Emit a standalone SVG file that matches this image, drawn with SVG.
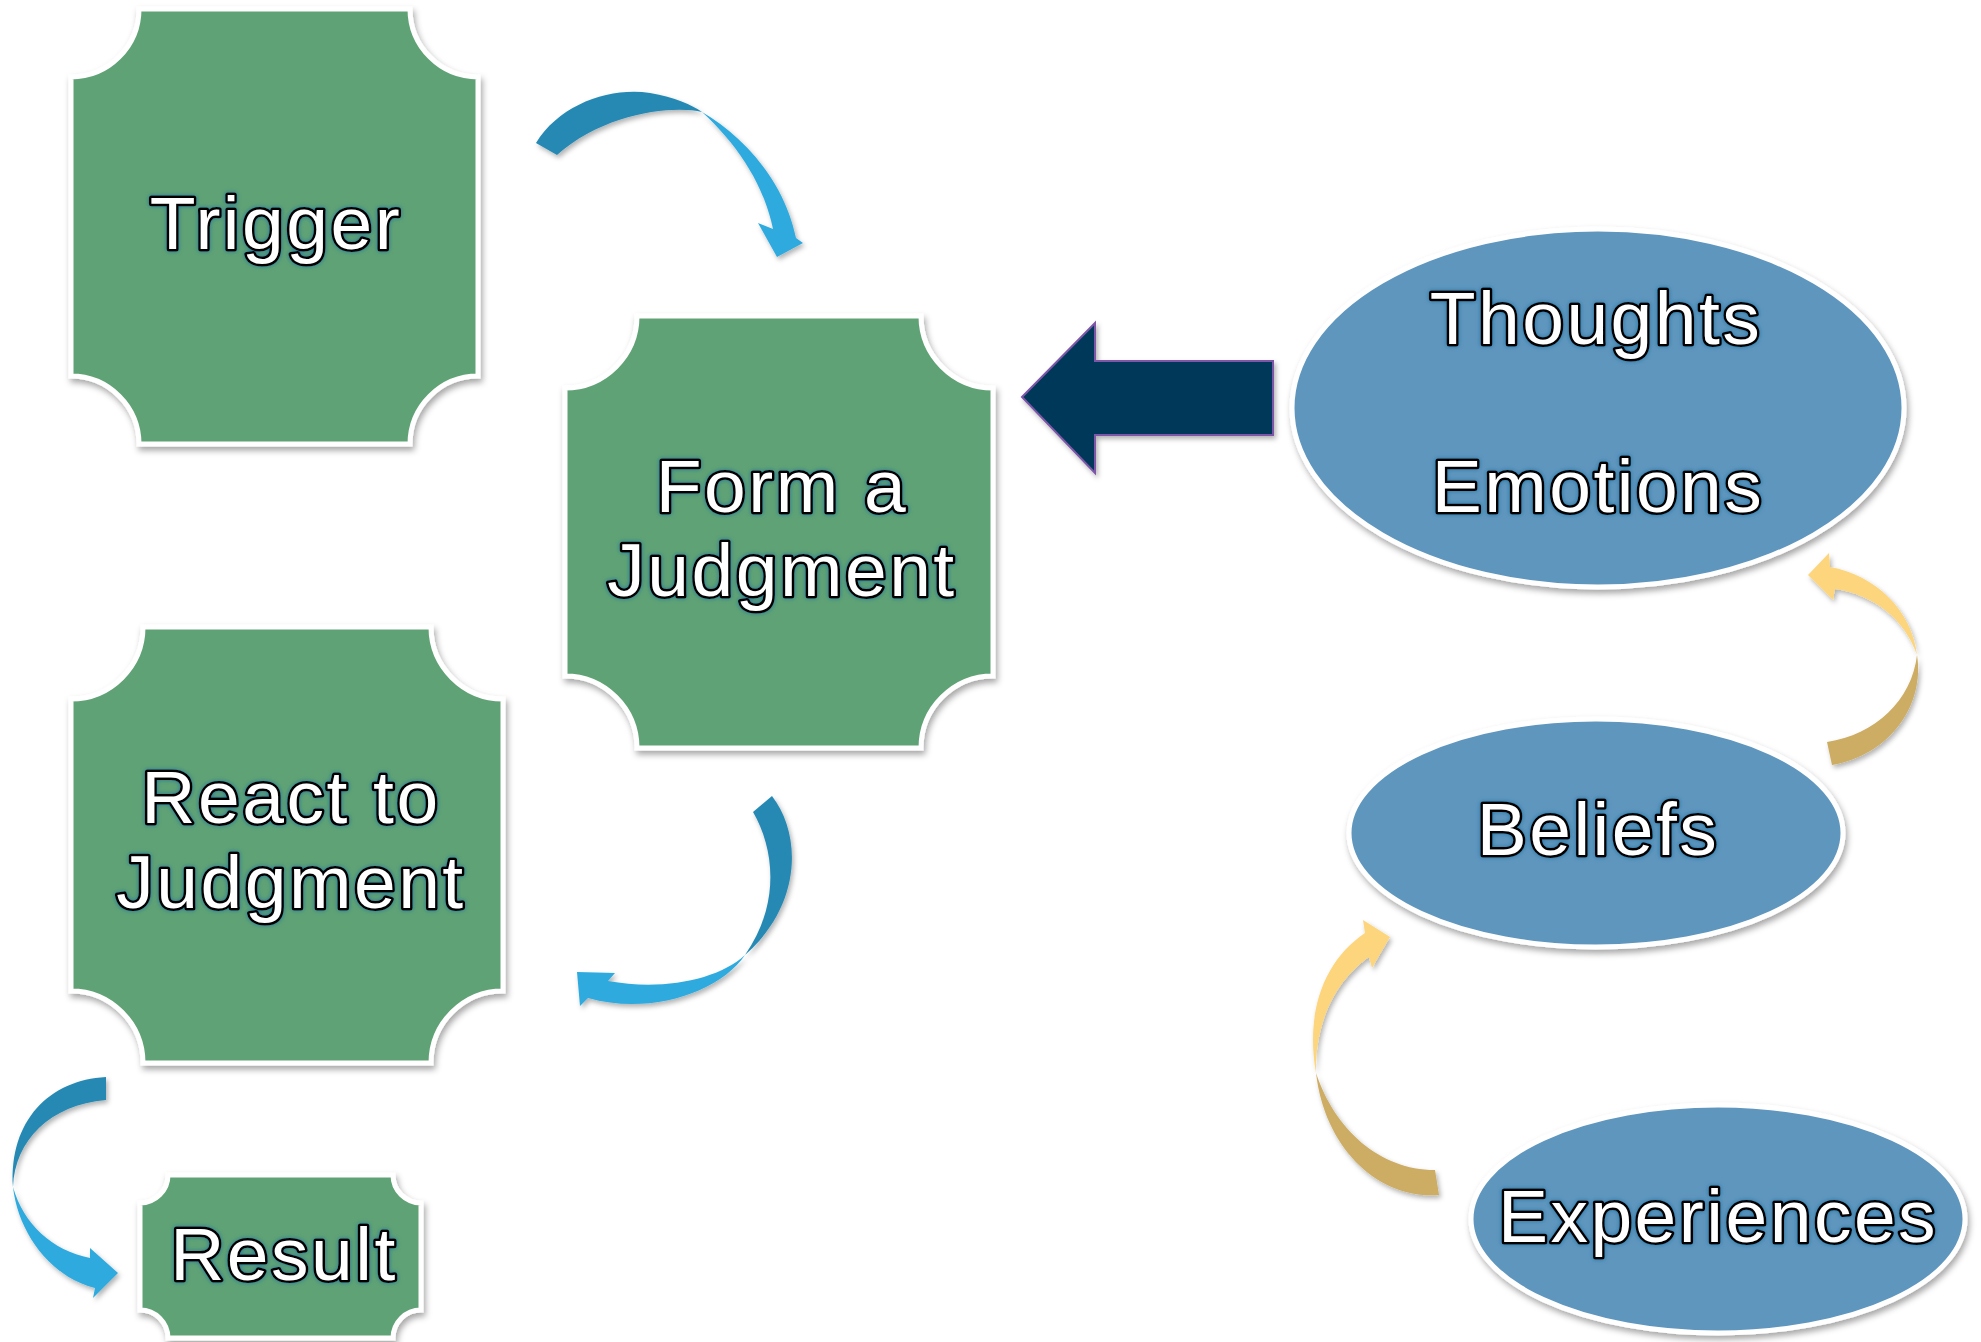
<svg xmlns="http://www.w3.org/2000/svg" width="1981" height="1342" viewBox="0 0 1981 1342">
  <defs>
    <filter id="shadow" x="-10%" y="-10%" width="120%" height="120%">
      <feDropShadow dx="2" dy="4" stdDeviation="3" flood-color="#000" flood-opacity="0.35"/>
    </filter>
    <filter id="arrowShadow" x="-10%" y="-10%" width="130%" height="130%">
      <feDropShadow dx="2" dy="3" stdDeviation="2.5" flood-color="#000" flood-opacity="0.3"/>
    </filter>
    <filter id="glow" x="-10%" y="-20%" width="120%" height="140%">
      <feDropShadow dx="0" dy="0" stdDeviation="2" flood-color="#1f6e9c" flood-opacity="0.9"/>
    </filter>
    <style>
      .box { fill: #5fa274; stroke: #ffffff; stroke-width: 5; filter: url(#shadow); }
      .oval { fill: #5f96be; stroke: #ffffff; stroke-width: 5; filter: url(#shadow); }
      .label { font-family: "Liberation Sans", Arial, sans-serif; font-weight: normal; font-size: 75px;
               letter-spacing: 2.5px;
               fill: #ffffff; stroke: #000000; stroke-width: 5; stroke-linejoin: round;
               paint-order: stroke fill; text-anchor: middle; filter: url(#glow); }
      .blueDark { fill: #2689b4; }
      .blueLight { fill: #2eaadf; }
      .goldLight { fill: #fdd57b; }
      .goldDark { fill: #cdac63; }
      .curved { filter: url(#arrowShadow); }
      .bigArrow { fill: #03385a; stroke: #7e57a8; stroke-width: 2; filter: url(#arrowShadow); }
    </style>
  </defs>

  <rect width="1981" height="1342" fill="#ffffff"/>

  <!-- connectors -->
  <g id="connectors">
    <!-- Trigger to Form a Judgment -->
    <g id="arrow-trigger-form" class="curved">
      <path class="blueDark" d="M 536,143 C 560,104 610,87 650,93 C 675,97 692,105 702,112 C 675,105 605,112 557,155 Z"/>
      <path class="blueLight" d="M 702,112 C 742,135 784,180 796,238 L 803,243 L 777,257 L 758,223 L 773,229 C 764,185 738,145 702,112 Z"/>
    </g>
    <!-- Form a Judgment to React to Judgment -->
    <g id="arrow-form-react" class="curved">
      <path class="blueDark" d="M 772,796 C 802,835 802,905 745,955 C 780,905 775,850 753,812 Z"/>
      <path class="blueLight" d="M 745,955 C 720,992 650,1016 588,998 L 580,1006 L 577,972 L 615,973 L 608,981 C 662,991 718,980 745,955 Z"/>
    </g>
    <!-- React to Judgment to Result -->
    <g id="arrow-react-result" class="curved">
      <path class="blueDark" d="M 106,1077 C 50,1080 9,1120 13,1187 C 15,1140 50,1105 106,1100 Z"/>
      <path class="blueLight" d="M 13,1187 C 18,1232 50,1277 95,1288 L 93,1298 L 118,1273 L 90,1248 L 90,1258 C 52,1250 24,1225 13,1187 Z"/>
    </g>
    <!-- Thoughts / Emotions into Form a Judgment -->
    <g id="arrow-thoughts-form">
      <path class="bigArrow" d="M 1022,397 L 1095,323 L 1095,361 L 1273,361 L 1273,435 L 1095,435 L 1095,473 Z"/>
    </g>
    <!-- Beliefs to Thoughts / Emotions -->
    <g id="arrow-beliefs-thoughts" class="curved">
      <path class="goldLight" d="M 1917,655 C 1912,610 1875,575 1830,567 L 1829,553 L 1808,575 L 1833,600 L 1835,589 C 1875,595 1905,620 1917,655 Z"/>
      <path class="goldDark" d="M 1917,655 C 1925,705 1890,755 1832,765 L 1827,742 C 1875,735 1912,700 1917,655 Z"/>
    </g>
    <!-- Experiences to Beliefs -->
    <g id="arrow-experiences-beliefs" class="curved">
      <path class="goldLight" d="M 1316,1073 C 1305,1010 1325,960 1365,933 L 1363,920 L 1390,937 L 1372,968 L 1369,957 C 1330,985 1315,1030 1316,1073 Z"/>
      <path class="goldDark" d="M 1316,1073 C 1325,1150 1380,1200 1439,1195 L 1435,1170 C 1380,1170 1335,1130 1316,1073 Z"/>
    </g>
  </g>

  <!-- process steps: rectangles with scooped corners -->
  <g id="node-trigger">
    <path class="box" d="M 139,9 H 410 A 68 68 0 0 0 478,77 V 376 A 68 68 0 0 0 410,444 H 139 A 68 68 0 0 0 71,376 V 77 A 68 68 0 0 0 139,9 Z"/>
    <text class="label" x="276" y="249">Trigger</text>
  </g>

  <g id="node-form">
    <path class="box" d="M 637,316 H 921 A 72 72 0 0 0 993,388 V 676 A 72 72 0 0 0 921,748 H 637 A 72 72 0 0 0 565,676 V 388 A 72 72 0 0 0 637,316 Z"/>
    <text class="label" x="782" y="512">Form a</text>
    <text class="label" x="782" y="596">Judgment</text>
  </g>

  <g id="node-react">
    <path class="box" d="M 143,627 H 431 A 72 72 0 0 0 503,699 V 991 A 72 72 0 0 0 431,1063 H 143 A 72 72 0 0 0 71,991 V 699 A 72 72 0 0 0 143,627 Z"/>
    <text class="label" x="291" y="823">React to</text>
    <text class="label" x="291" y="908">Judgment</text>
  </g>

  <g id="node-result">
    <path class="box" d="M 168,1175 H 393 A 28 28 0 0 0 421,1203 V 1310 A 28 28 0 0 0 393,1338 H 168 A 28 28 0 0 0 140,1310 V 1203 A 28 28 0 0 0 168,1175 Z"/>
    <text class="label" x="284" y="1280">Result</text>
  </g>

  <!-- influences -->
  <g id="node-thoughts">
    <ellipse class="oval" cx="1598" cy="408" rx="306" ry="179"/>
    <text class="label" x="1596" y="344">Thoughts</text>
    <text class="label" x="1598" y="512">Emotions</text>
  </g>

  <g id="node-beliefs">
    <ellipse class="oval" cx="1596" cy="833" rx="247" ry="114"/>
    <text class="label" x="1598" y="855">Beliefs</text>
  </g>

  <g id="node-experiences">
    <ellipse class="oval" cx="1718" cy="1219" rx="247" ry="114"/>
    <text class="label" x="1718" y="1242">Experiences</text>
  </g>
</svg>
